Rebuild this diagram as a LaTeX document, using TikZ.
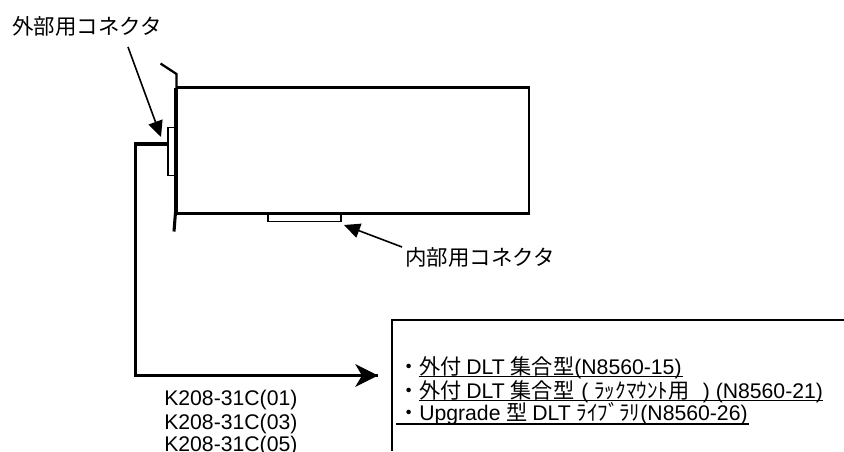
\documentclass[tikz,border=0pt]{standalone}
\usepackage{fontspec}
\setmainfont{Liberation Sans}
\newfontfamily\jpfont{Noto Sans CJK JP}
\usetikzlibrary{arrows.meta}
\newcommand{\lat}{\fontspec{Liberation Sans}}
\tikzset{
  x=0.75pt,y=-0.75pt,
  lbl/.style={inner sep=0pt,anchor=base west,font=\fontsize{15.9}{18}\selectfont},
  part/.style={draw=black,line width=1.2pt},
  heavy/.style={draw=black,line width=2.8pt},
  thin bracket/.style={draw=black,line width=1.7pt,line join=miter},
  wire/.style={draw=black,line width=2.3pt,line join=miter},
  pointer/.style={draw=black,line width=1.2pt,-{Triangle[length=12pt,width=11pt]}},
  bigarrow/.style={draw=black,line width=2.3pt,-{Stealth[length=17pt,width=17pt,inset=5pt]}},
  uline/.style={draw=black,line width=0.8pt}
}
\begin{document}
\begin{tikzpicture}
\useasboundingbox (0,0) rectangle (844,451);
\clip (0,0) rectangle (844,451);
% card
\draw[draw=black,line width=2.1pt] (177,87.7) -- (529,87.7) -- (529,213.3) -- (177,213.3);
\coordinate (brtop) at (160.5,63.5);
\coordinate (brbend) at (176.5,74);
\coordinate (brbot) at (174,231.5);
\draw[thin bracket] (brtop) -- (brbend) -- (176.5,90);
\draw[heavy] (176.3,88) -- (176.3,213);
\draw[draw=black,line width=2.3pt] (175.5,212) -- (brbot);
% connectors
\draw[part] (173.5,127.5) -- (168,127.5) -- (168,175.5) -- (173.5,175.5);
\coordinate (intA) at (268,214);
\coordinate (intB) at (341,214);
\draw[draw=black,line width=1.1pt] (intA) -- (268,221.5) -- (341,221.5) -- (intB);
% cable
\coordinate (cablestart) at (168,144);
\coordinate (cablecorner1) at (135.4,144);
\coordinate (cablecorner2) at (135.4,375.5);
\coordinate (cableend) at (378,375.5);
\draw[wire] (cablestart) -- (cablecorner1) -- (cablecorner2) -- (cablecorner2 -| cableend);
\draw[bigarrow] (cablecorner2) -- (cableend);
% labels
\node[lbl,font=\fontsize{16.1}{18}\selectfont] (extlabel) at (12,34) {\jpfont 外部用コネクタ};
\node[lbl,font=\fontsize{16.1}{18}\selectfont] (intlabel) at (405,265) {\jpfont 内部用コネクタ};
\coordinate (ptr1) at (128,47);
\coordinate (ptr1end) at (161,137);
\draw[pointer] (ptr1) -- (ptr1end);
\coordinate (ptr2) at (402,247);
\coordinate (ptr2end) at (344,225);
\draw[pointer] (ptr2) -- (ptr2end);
% box
\coordinate (boxTL) at (392,320);
\draw[draw=black,line width=1.2pt] (844,320) -- (boxTL) -- (392,451);
% list
\node[lbl] (l1) at (398,374) {\jpfont ・};
\node[lbl] (l1t) at (419,374) {\jpfont 外付 \lat DLT \jpfont 集合型\lat (N8560-15)};
\node[lbl] (l2) at (398,398) {\jpfont ・};
\node[lbl] (l2t) at (419,398) {\jpfont 外付 \lat DLT \jpfont 集合型\hspace{0.1em} \lat ( \jpfont ﾗｯｸﾏｳﾝﾄ用\hspace{0.4em} \lat ) (N8560-21)};
\node[lbl] (l3) at (398,420) {\jpfont ・};
\node[lbl] (l3t) at (419,420) {Upgrade \jpfont 型 \lat DLT \jpfont ﾗｲﾌﾞﾗﾘ\lat (N8560-26)};
\draw[uline] (419,376.5) -- (683,376.5);
\draw[uline] (419,400.5) -- (823,400.5);
\draw[uline] (396,424) -- (749,424);
% part numbers
\node[lbl] (k1) at (164,405) {K208-31C(01)};
\node[lbl] (k2) at (164,429) {K208-31C(03)};
\node[lbl] (k3) at (164,451) {K208-31C(05)};
\end{tikzpicture}
\end{document}
